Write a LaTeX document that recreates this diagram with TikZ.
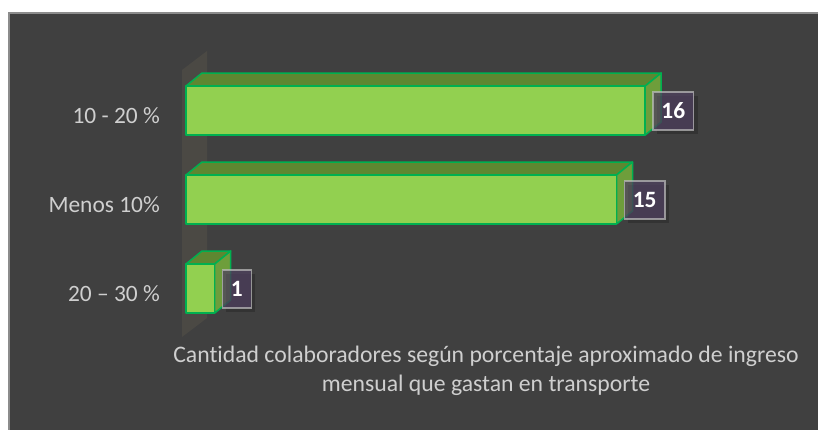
\documentclass[tikz,border=0pt]{standalone}
\usepackage{fontspec}
\setmainfont{Carlito}[Ligatures=NoCommon]
\usetikzlibrary{positioning,shadows}
\definecolor{bg}{HTML}{404040}
\definecolor{frame}{HTML}{8C8C8C}
\definecolor{wall}{HTML}{4B4944}
\definecolor{barfront}{HTML}{92D050}
\definecolor{bartop}{HTML}{5E8731}
\definecolor{barside}{HTML}{6E9E3B}
\definecolor{barline}{HTML}{00B050}
\definecolor{boxfill}{HTML}{4E405E}
\definecolor{boxline}{HTML}{BFBFBF}
\definecolor{txtgray}{HTML}{CFCFCF}
\begin{document}
\begin{tikzpicture}
      [x=1bp,y=-1bp,
       front/.style={fill=barfront,draw=barline,line width=1.5bp,line join=round},
       topface/.style={fill=bartop,draw=barline,line width=1.5bp,line join=round},
       sideface/.style={fill=barside,draw=barline,line width=1.5bp,line join=round},
       cat/.style={text=txtgray,font=\fontsize{23.5}{29}\selectfont,anchor=base east,inner sep=0pt},
       val/.style={fill=boxfill,fill opacity=0.75,text opacity=1,draw=boxline,draw opacity=0.7,
         line width=1.5bp,text=white,font=\fontsize{23.5}{29}\selectfont\bfseries,
         minimum height=38bp,inner xsep=8.5bp,
         drop shadow={shadow xshift=4bp,shadow yshift=-4bp,opacity=0.2,fill=black}}]
      \useasboundingbox (0,0) rectangle (818,429);
      \fill[white] (0,0) rectangle (818,429);
      \draw[fill=bg,draw=frame,line width=1.5bp] (9,13) rectangle (822,433);
      \fill[wall] (182,70) -- (207,51) -- (207,318) -- (182,337) -- cycle;
      % 16
      \draw[topface] (186,86) -- (202,73) -- (661.2,73) -- (645.2,86) -- cycle;
      \draw[sideface] (645.2,86) -- (661.2,73) -- (661.2,122) -- (645.2,135) -- cycle;
      \draw[front] (186,86) rectangle (645.2,135);
      \coordinate (E1) at (645.2,111);
      % 15
      \draw[topface] (186,175) -- (202,162) -- (632.5,162) -- (616.5,175) -- cycle;
      \draw[sideface] (616.5,175) -- (632.5,162) -- (632.5,211) -- (616.5,224) -- cycle;
      \draw[front] (186,175) rectangle (616.5,224);
      \coordinate (E2) at (616.5,200);
      % 1
      \draw[topface] (186,264) -- (202,251) -- (230.7,251) -- (214.7,264) -- cycle;
      \draw[sideface] (214.7,264) -- (230.7,251) -- (230.7,300) -- (214.7,313) -- cycle;
      \draw[front] (186,264) rectangle (214.7,313);
      \coordinate (E3) at (214.7,289);
      \node[val,right=7bp of E1] (V1) {16};
      \node[val,right=7bp of E2] (V2) {15};
      \node[val,right=7bp of E3] (V3) {1};
      \node[cat] (L1) at (160,123.5) {10 - 20 \%};
      \node[cat] (L2) at (160,212.5) {Menos 10\%};
      \node[cat] (L3) at (160,301.5) {20 – 30 \%};
      \node[text=txtgray,font=\fontsize{23.8}{29}\selectfont,align=center,inner sep=0pt]
        (T) at (486,371) {Cantidad colaboradores según porcentaje aproximado de ingreso\\
        mensual que gastan en transporte};
    \end{tikzpicture}
\end{document}
